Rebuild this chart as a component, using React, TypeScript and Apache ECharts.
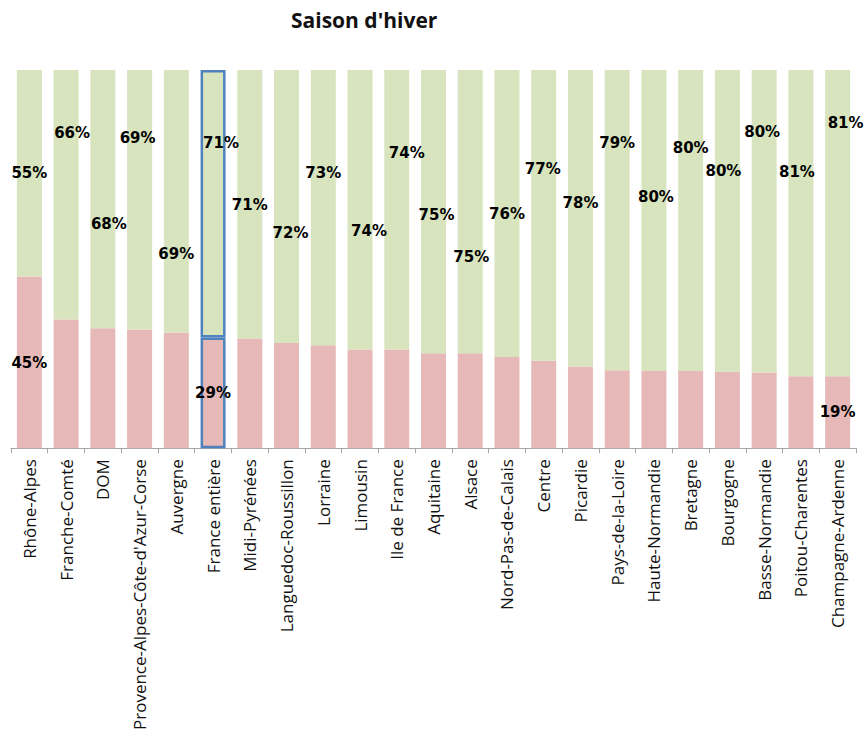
import React, { useEffect, useRef } from "react";
import * as echarts from "echarts";

const categories = [
  "Rhône-Alpes", "Franche-Comté", "DOM", "Provence-Alpes-Côte-d'Azur-Corse", "Auvergne",
  "France entière", "Midi-Pyrénées", "Languedoc-Roussillon", "Lorraine", "Limousin",
  "Ile de France", "Aquitaine", "Alsace", "Nord-Pas-de-Calais", "Centre", "Picardie",
  "Pays-de-la-Loire", "Haute-Normandie", "Bretagne", "Bourgogne", "Basse-Normandie",
  "Poitou-Charentes", "Champagne-Ardenne",
];

// Lower (pink) share, in %
const pinkShare = [
  45.4, 34.0, 31.7, 31.4, 30.6, 29.3, 29.0, 27.8, 27.2, 26.1, 26.1, 25.1, 25.1,
  24.1, 23.1, 21.6, 20.6, 20.4, 20.4, 20.2, 20.0, 19.0, 19.0,
];
// Upper (green) share, in %
const greenShare = [
  54.6, 66.0, 68.3, 68.6, 69.4, 70.7, 71.0, 72.2, 72.8, 73.9, 73.9, 74.9, 74.9,
  75.9, 76.9, 78.4, 79.4, 79.6, 79.6, 79.8, 80.0, 81.0, 81.0,
];
// which pink bars carry a label
const pinkLabelShown = [0, 5, 22];
const highlighted = 5;

// label placement (layout only): page y of each green label, and x nudge
const greenLabelY = [173, 133, 224, 138, 254, 143, 205, 233, 173, 231, 153, 215, 257, 214, 169, 203, 143, 197, 148, 171, 132, 172, 123];
const greenLabelDx = [0, 6, 6, -2, 0, 8, 0, 4, 0, 9, 10, 3, 1, 0, -1, 0, 0, 2, 0, -4, -2, -4, 8];
const pinkLabelY: Record<number, number> = { 0: 364, 5: 394, 22: 413 };

const GRID_TOP = 70;
const GRID_BOTTOM_Y = 449;

export default function App() {
  const ref = useRef<HTMLDivElement>(null);
  useEffect(() => {
    document.body.style.margin = "0";
    const chart = echarts.init(ref.current!, null, { renderer: "svg" });
    const labelFont = {
      fontFamily: "DejaVu Sans",
      fontWeight: "bold" as const,
      fontSize: 15,
      color: "#000",
    };
    const border = { borderColor: "#4f81bd", borderWidth: 2.5 };
    chart.setOption({
      animation: false,
      backgroundColor: "#fff",
      title: {
        text: "Saison d'hiver",
        left: 286,
        top: 4,
        textStyle: { fontFamily: "Open Sans", fontWeight: "bold", fontSize: 21, color: "#111" },
      },
      grid: { left: 11, right: 9, top: GRID_TOP, bottom: 733 - GRID_BOTTOM_Y, containLabel: false },
      xAxis: {
        type: "category",
        data: categories,
        axisLine: { lineStyle: { color: "#a6a6a6", width: 1 } },
        axisTick: { show: true, length: 5, interval: 0, lineStyle: { color: "#a6a6a6" } },
        axisLabel: {
          rotate: 90,
          interval: 0,
          margin: 11,
          fontFamily: "Open Sans",
          fontSize: 17,
          color: "#111",
        },
      },
      yAxis: { type: "value", min: 0, max: 100, show: false, splitLine: { show: false } },
      series: [
        {
          type: "bar",
          stack: "s",
          barCategoryGap: "32%",
          itemStyle: { color: "#e6b9b8" },
          data: pinkShare.map((v, i) => ({
            value: v,
            itemStyle: i === highlighted ? border : undefined,
            label: pinkLabelShown.includes(i)
              ? {
                  show: true,
                  position: ["50%", "100%"],
                  offset: [0, pinkLabelY[i] - GRID_BOTTOM_Y],
                  align: "center",
                  verticalAlign: "middle",
                  formatter: () => Math.round(v) + "%",
                  ...labelFont,
                }
              : { show: false },
          })),
        },
        {
          type: "bar",
          stack: "s",
          barCategoryGap: "32%",
          itemStyle: { color: "#d7e4bd" },
          data: greenShare.map((v, i) => ({
            value: v,
            itemStyle: i === highlighted ? border : undefined,
            label: {
              show: true,
              position: ["50%", 0],
              offset: [greenLabelDx[i], greenLabelY[i] - GRID_TOP],
              align: "center",
              verticalAlign: "middle",
              formatter: () => Math.round(v) + "%",
              ...labelFont,
            },
          })),
        },
      ],
    });
    return () => chart.dispose();
  }, []);
  return <div ref={ref} style={{ width: 865, height: 733 }} />;
}
